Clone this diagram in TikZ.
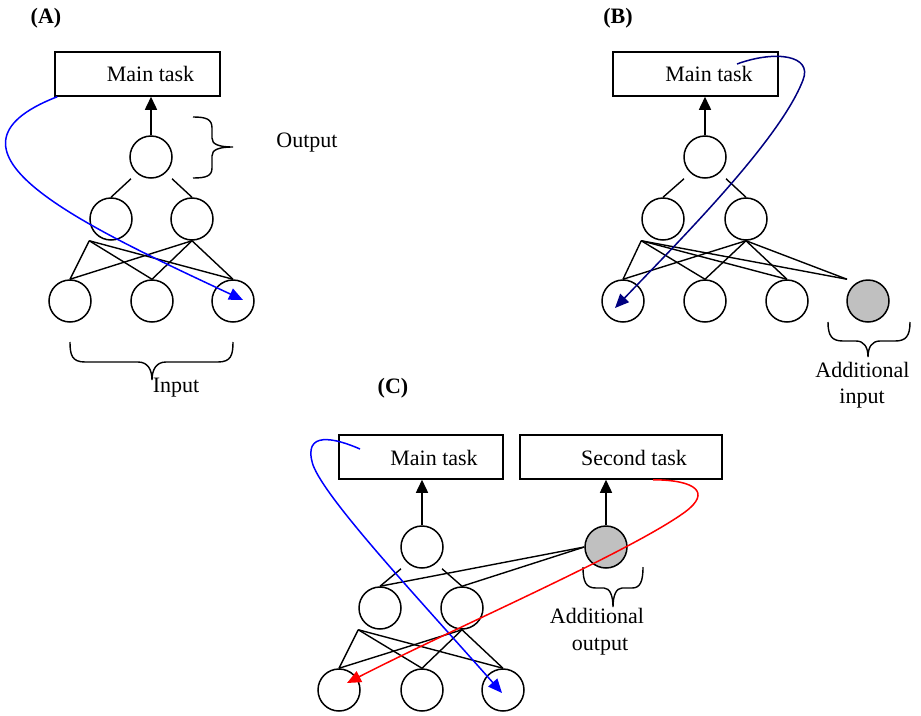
\documentclass[tikz,border=0pt]{standalone}
\usepackage{fontspec}
\setmainfont{Liberation Serif}
\usetikzlibrary{arrows.meta,calc}
\definecolor{blueA}{RGB}{0,0,255}
\definecolor{navyB}{RGB}{0,0,128}
\definecolor{redC}{RGB}{255,0,0}
\definecolor{graycol}{RGB}{192,192,192}
\begin{document}
\begin{tikzpicture}[x=1pt,y=-1pt,
  every node/.style={font=\fontsize{22}{26}\selectfont},
  neuron/.style={draw, circle, line width=1.5pt, minimum size=42pt, inner sep=0pt},
  grayneuron/.style={neuron, fill=graycol},
  taskbox/.style={draw, line width=1.5pt, minimum width=#1, minimum height=44pt, inner sep=0pt},
  link/.style={line width=1.4pt},
  uparrow/.style={line width=1.5pt, -{Triangle[length=13pt,width=12pt]}},
  bracepath/.style={line width=1.4pt},
  flow/.style={line width=1.5pt, -{Triangle[length=14pt,width=12pt]}},
  lbl/.style={anchor=base, inner sep=0pt},
  panel/.style={anchor=base, inner sep=0pt, font=\fontsize{22}{26}\selectfont\bfseries}
]
\useasboundingbox (0,0) rectangle (921,715);

% ---------------- Panel A ----------------
\node[panel] (pA) at (46,23) {(A)};
\node[taskbox=165pt] (mA) at (137.5,74) {};
\node[lbl] (mAt) at (150.5,81) {Main task};
\node[neuron] (aT) at (151,157) {};
\node[neuron] (aH1) at (111,219) {};
\node[neuron] (aH2) at (192,219) {};
\node[neuron] (aI1) at (70,301) {};
\node[neuron] (aI2) at (152,301) {};
\node[neuron] (aI3) at (233,301) {};
\draw[uparrow] (aT.north) -- (aT.north |- mA.south);
\draw[link] ($(aT.south)+(-20,0)$) -- (aH1.north);
\draw[link] ($(aT.south)+(21,0)$) -- (aH2.north);
\coordinate (aH1b) at (aH1.west |- aH1.south);
\foreach \i in {aI1,aI2,aI3} {
  \draw[link] (aH1b) -- (\i.north);
  \draw[link] (aH2.south) -- (\i.north);
}
\draw[bracepath] (193,117) .. controls (206,117) and (212,119) .. (212,128) -- (212,138)
  .. controls (212,144) and (218,147) .. (233,147)
  .. controls (218,147) and (212,150) .. (212,156) -- (212,168)
  .. controls (212,176) and (206,178) .. (193,178);
\node[lbl] (outA) at (307,147) {Output};
\draw[bracepath] (70,342) .. controls (70,355) and (72,362) .. (85,362) -- (138,362)
  .. controls (148,362) and (152,370) .. (152,380)
  .. controls (152,370) and (156,362) .. (166,362) -- (218,362)
  .. controls (231,362) and (233,355) .. (233,342);
\node[lbl] (inA) at (176,392) {Input};
\coordinate (aS) at ($(mA.south west)+(3,0)$);
\coordinate (aE) at ($(aI3.center)+(10,-1)$);
\draw[flow, blueA] (aS) .. controls (-80,150) and (83,225) .. (aE);

% ---------------- Panel B ----------------
\node[panel] (pB) at (618,23) {(B)};
\node[taskbox=165pt] (mB) at (695.5,74) {};
\node[lbl] (mBt) at (709,81) {Main task};
\node[neuron] (bT) at (705,157) {};
\node[neuron] (bH1) at (663,219) {};
\node[neuron] (bH2) at (746,219) {};
\node[neuron] (bI1) at (623,301) {};
\node[neuron] (bI2) at (705,301) {};
\node[neuron] (bI3) at (787,301) {};
\node[grayneuron] (bX) at (868,301) {};
\draw[uparrow] (bT.north) -- (bT.north |- mB.south);
\draw[link] ($(bT.south)+(-21,0)$) -- (bH1.north);
\draw[link] ($(bT.south)+(21,0)$) -- (bH2.north);
\coordinate (bH1b) at (bH1.west |- bH1.south);
\coordinate (bXt) at ($(bX.north)+(-21,0)$);
\foreach \i in {bI1.north,bI2.north,bI3.north,bXt} {
  \draw[link] (bH1b) -- (\i);
  \draw[link] (bH2.south) -- (\i);
}
\draw[bracepath] (828,322) .. controls (828,336) and (832,341) .. (843,341) -- (856,341)
  .. controls (864,341) and (868,347) .. (868,357)
  .. controls (868,347) and (872,341) .. (880,341) -- (895,341)
  .. controls (906,341) and (910,336) .. (910,322);
\node[lbl] (addB1) at (862.5,377) {Additional};
\node[lbl] (addB2) at (862,403) {input};
\coordinate (bS) at (737,64);
\coordinate (bE) at ($(bI1.center)+(-8,7)$);
\draw[flow, navyB] (bS) .. controls (775,50) and (813,55) .. (803,80)
  .. controls (780,140) and (680,240) .. (bE);

% ---------------- Panel C ----------------
\node[panel] (pC) at (393,393) {(C)};
\node[taskbox=164pt] (mC) at (421,457) {};
\node[lbl] (mCt) at (434,465) {Main task};
\node[taskbox=202pt] (sC) at (621,457) {};
\node[lbl] (sCt) at (634,465) {Second task};
\node[neuron] (cT) at (422,547) {};
\node[grayneuron] (cG) at (606,547) {};
\node[neuron] (cH1) at (380,608) {};
\node[neuron] (cH2) at (462,608) {};
\node[neuron] (cI1) at (339,690) {};
\node[neuron] (cI2) at (422,690) {};
\node[neuron] (cI3) at (503,690) {};
\draw[uparrow] (cT.north) -- (cT.north |- mC.south);
\draw[uparrow] (cG.north) -- (cG.north |- sC.south);
\draw[link] ($(cT.south)+(-21,0)$) -- (cH1.north);
\draw[link] ($(cT.south)+(20,0)$) -- (cH2.north);
\draw[link] (cG.west) -- (cH1.north);
\draw[link] (cG.west) -- (cH2.north);
\coordinate (cH1b) at (cH1.west |- cH1.south);
\foreach \i in {cI1,cI2,cI3} {
  \draw[link] (cH1b) -- (\i.north);
  \draw[link] (cH2.south) -- (\i.north);
}
\draw[bracepath] (583,567) .. controls (583,582) and (586,588) .. (596,588) -- (604,588)
  .. controls (610,588) and (613,596) .. (613,607)
  .. controls (613,596) and (616,588) .. (622,588) -- (632,588)
  .. controls (640,588) and (643,582) .. (643,567);
\node[lbl] (addC1) at (597,623) {Additional};
\node[lbl] (addC2) at (600,650) {output};
\coordinate (cS) at (360,449);
\coordinate (cE) at ($(cI3.center)+(-1,3)$);
\draw[flow, blueA] (cS) .. controls (335,438) and (302,430) .. (313,465)
  .. controls (326,500) and (420,600) .. (cE);
\coordinate (rS) at ($(sC.south)+(32,0)$);
\coordinate (rE) at ($(cI1.center)+(8,-7)$);
\draw[flow, redC] (rS) .. controls (695,480) and (712,492) .. (685,512)
  .. controls (630,552) and (450,630) .. (rE);
\end{tikzpicture}
\end{document}
